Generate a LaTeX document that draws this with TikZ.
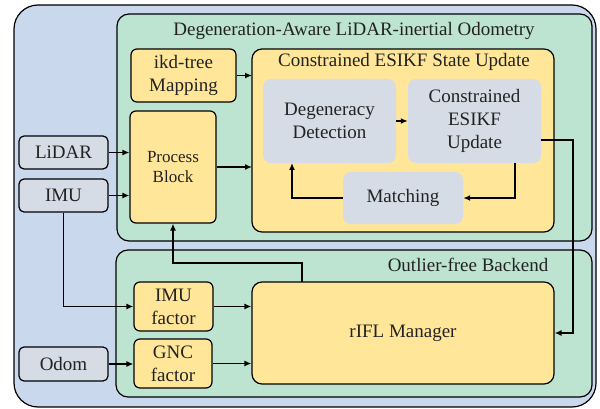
\documentclass[tikz,border=0pt]{standalone}
\usepackage{fontspec}
\setmainfont{Liberation Serif}
\usetikzlibrary{arrows.meta,calc}
\definecolor{bgblue}{HTML}{CAD8EE}
\definecolor{bggreen}{HTML}{BDE4D1}
\definecolor{byellow}{HTML}{FFE699}
\definecolor{bgray}{HTML}{D6DCE5}
\definecolor{txt}{HTML}{222222}
\begin{document}
\begin{tikzpicture}[x=1pt,y=-1pt,
  every node/.style={text=txt},
  frame/.style={draw=black, line width=1.2pt, rounded corners=#1},
  ybox/.style={draw=black, line width=1.2pt, fill=byellow, rounded corners=6pt, align=center, inner sep=0pt, font=\fontsize{19}{23}\selectfont},
  gbox/.style={draw=black, line width=1.2pt, fill=bgray, rounded corners=5pt, align=center, inner sep=0pt, font=\fontsize{19}{23}\selectfont},
  ibox/.style={fill=bgray, rounded corners=8pt, align=center, inner sep=0pt, font=\fontsize{19}{23}\selectfont},
  ttl/.style={font=\fontsize{19}{23}\selectfont, inner sep=0pt},
  arr/.style={-{Latex[length=7pt,width=6pt]}, line width=1.4pt, black}
]
\useasboundingbox (0,0) rectangle (600,409);
% frames
\draw[frame=24pt, fill=bgblue] (14,5) rectangle (596,407);
\draw[frame=12pt, fill=bggreen] (117,14) rectangle (592,241);
\draw[frame=12pt, fill=bggreen] (116,250) rectangle (592,397);
\draw[frame=10pt, fill=byellow] (252,49) rectangle (554,232);
\node[ttl] (t1) at (354,31) {Degeneration-Aware LiDAR-inertial Odometry};
\node[ttl] (t2) at (404,62) {Constrained ESIKF State Update};
\node[ttl] (t3) at (468,265) {Outlier-free Backend};
\coordinate (esikfN) at (252,75);
% nodes
\node[ybox, minimum width=105pt, minimum height=53pt] (ikd) at (183.5,75.5) {ikd-tree\\Mapping};
\node[ybox, minimum width=86pt, minimum height=112pt, font=\fontsize{17}{20.5}\selectfont] (proc) at (173,167) {Process\\Block};
\node[gbox, minimum width=89pt, minimum height=33pt] (lidar) at (63.5,152.5) {LiDAR};
\node[gbox, minimum width=89pt, minimum height=33pt] (imu) at (63.5,195.5) {IMU};
\node[gbox, minimum width=89pt, minimum height=34pt] (odom) at (63.5,364) {Odom};
\node[ibox, minimum width=133pt, minimum height=84pt] (degen) at (329.5,121) {Degeneracy\\Detection};
\node[ibox, minimum width=133pt, minimum height=84pt] (cupd) at (474.5,121) {Constrained\\ESIKF\\Update};
\node[ibox, minimum width=120pt, minimum height=52pt] (match) at (403,198) {Matching};
\node[ybox, minimum width=79pt, minimum height=49pt] (imuf) at (173.5,306.5) {IMU\\factor};
\node[ybox, minimum width=78pt, minimum height=49pt] (gncf) at (173,363.5) {GNC\\factor};
\node[ybox, minimum width=302pt, minimum height=102pt, rounded corners=10pt] (rifl) at (403,333) {rIFL Manager};
% arrows
\draw[arr] (lidar.east) -- (lidar.east -| proc.west);
\draw[arr] (imu.east) -- (imu.east -| proc.west);
\draw[arr] (ikd.east) -- (252,75.5);
\draw[arr] (proc.east) -- (252,167);
\draw[arr] (degen.east) -- (cupd.west);
\draw[arr] (515,163) -- (515,198) -- (match.east);
\draw[arr] (match.west) -- (292,198) -- (292,163);
\draw[arr] (541,140) -- (573,140) -- (573,333) -- (rifl.east);
\draw[arr] (imu.south) -- (63.5,306.5) -- (imuf.west);
\draw[arr] (imuf.east) -- (imuf.east -| rifl.west);
\draw[arr] (gncf.east) -- (gncf.east -| rifl.west);
\draw[arr] (odom.east) -- (odom.east -| gncf.west);
\draw[arr] (302,282) -- (302,263) -- (173,263) -- (proc.south);
\end{tikzpicture}
\end{document}
